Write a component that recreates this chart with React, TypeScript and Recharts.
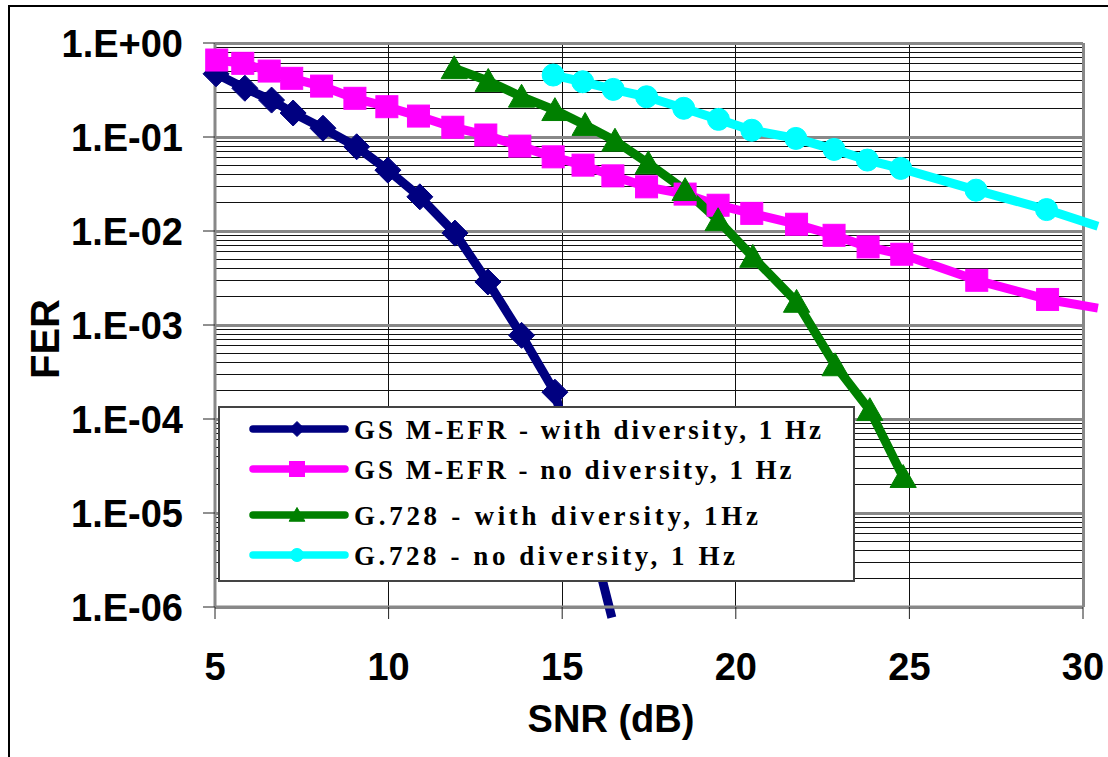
import React from 'react';
import { LineChart, Line, XAxis, YAxis, CartesianGrid, Legend } from 'recharts';

// ---------- axis ticks ----------
const xTicks = [5, 10, 15, 20, 25, 30];
const yTicks = [1e-6, 1e-5, 1e-4, 1e-3, 1e-2, 1e-1, 1];
const yTickLabels = ['1.E-06', '1.E-05', '1.E-04', '1.E-03', '1.E-02', '1.E-01', '1.E+00'];
const minorMultipliers = [2, 3, 4, 5, 6, 7, 8, 9];
const yMinorGrid = yTicks.slice(0, -1).flatMap((d) => minorMultipliers.map((m) => d * m));
const xInnerGrid = [10, 15, 20, 25];

// ---------- series ----------
const seriesNames = [
  'GS M-EFR - with diversity, 1 Hz',
  'GS M-EFR - no diversity, 1 Hz',
  'G.728 - with diversity, 1Hz',
  'G.728 - no diversity, 1 Hz',
];

// GSM-EFR with diversity (last point: line continues, no marker)
const efrDivSnr = [5.03, 5.86, 6.63, 7.25, 8.11, 9.08, 9.98, 10.9, 11.91, 12.86, 13.83, 14.79, 16.43];
const efrDivFer = [0.47, 0.33, 0.247, 0.18, 0.124, 0.0787, 0.0444, 0.0231, 0.0095, 0.00287, 0.000776, 0.000193, 7.7e-7];
const efrDivMarkers = 12;

// GSM-EFR no diversity
const efrNoSnr = [5.05, 5.8, 6.56, 7.21, 8.07, 9.03, 9.95, 10.86, 11.85, 12.8, 13.78, 14.74, 15.6, 16.46, 17.43, 18.54, 19.49, 20.46, 21.75, 22.83, 23.81, 24.78, 26.94, 28.98, 30.43];
const efrNoFer = [0.659, 0.608, 0.503, 0.421, 0.348, 0.258, 0.21, 0.167, 0.127, 0.105, 0.08, 0.0615, 0.0502, 0.0386, 0.0295, 0.0247, 0.0188, 0.0154, 0.0118, 0.009, 0.00677, 0.00566, 0.00299, 0.00187, 0.00151];
const efrNoMarkers = 24;

// G.728 with diversity
const g728DivSnr = [11.89, 12.87, 13.83, 14.79, 15.66, 16.52, 17.48, 18.54, 19.49, 20.49, 21.75, 22.86, 23.86, 24.82];
const g728DivFer = [0.538, 0.394, 0.268, 0.193, 0.134, 0.0912, 0.0524, 0.0272, 0.013, 0.0053, 0.00176, 0.000372, 0.000124, 0.0000241];
const g728DivMarkers = 14;

// G.728 no diversity
const g728NoSnr = [14.74, 15.59, 16.47, 17.43, 18.5, 19.5, 20.46, 21.73, 22.83, 23.79, 24.75, 26.92, 28.95, 30.43];
const g728NoFer = [0.456, 0.387, 0.321, 0.268, 0.202, 0.154, 0.118, 0.0966, 0.0738, 0.0568, 0.0463, 0.0272, 0.0169, 0.01125];
const g728NoMarkers = 13;

const toPoints = (snr: number[], fer: number[]) => snr.map((s, i) => ({ snr: s, fer: fer[i] }));

const efrDivData = toPoints(efrDivSnr, efrDivFer);
const efrNoData = toPoints(efrNoSnr, efrNoFer);
const g728DivData = toPoints(g728DivSnr, g728DivFer);
const g728NoData = toPoints(g728NoSnr, g728NoFer);

const NAVY = '#000080';
const MAGENTA = '#FF00FF';
const GREEN = '#008000';
const CYAN = '#00FFFF';
const seriesColors = [NAVY, MAGENTA, GREEN, CYAN];

const SANS = '"Liberation Sans", Arial, Helvetica, sans-serif';
const SERIF = '"Liberation Serif", "Times New Roman", serif';

const LINE_W = 9;

type Shape = 'diamond' | 'square' | 'triangle' | 'circle';

const drawMarker = (shape: Shape, cx: number, cy: number, color: string, s: number, key?: string) => {
  if (shape === 'diamond') {
    return <polygon key={key} points={`${cx},${cy - s} ${cx + s},${cy} ${cx},${cy + s} ${cx - s},${cy}`} fill={color} stroke={color} strokeWidth={1} />;
  }
  if (shape === 'square') {
    return <rect key={key} x={cx - s} y={cy - s} width={2 * s} height={2 * s} fill={color} stroke={color} strokeWidth={1} />;
  }
  if (shape === 'triangle') {
    return <polygon key={key} points={`${cx},${cy - s} ${cx + s * 1.05},${cy + s * 0.83} ${cx - s * 1.05},${cy + s * 0.83}`} fill={color} stroke={color} strokeWidth={1} />;
  }
  return <circle key={key} cx={cx} cy={cy} r={s} fill={color} stroke={color} strokeWidth={1} />;
};

const makeDot = (shape: Shape, color: string, count: number, size: number) => (props: any) => {
  const { cx, cy, index } = props;
  const key = `dot-${shape}-${index}`;
  if (index >= count || cx == null || cy == null) return <g key={key} />;
  return drawMarker(shape, cx, cy, color, size, key);
};

const YTick = (props: any) => {
  const { x, y, payload } = props;
  const idx = yTicks.findIndex((t) => Math.abs(Math.log10(t) - Math.log10(payload.value)) < 1e-6);
  return (
    <text x={x} y={y} dy={13.5} textAnchor="end" fontFamily={SANS} fontWeight="bold" fontSize={38} fill="#000">
      {yTickLabels[idx]}
    </text>
  );
};

const XTick = (props: any) => {
  const { x, y, payload } = props;
  return (
    <text x={x} y={y} dy={61} textAnchor="middle" fontFamily={SANS} fontWeight="bold" fontSize={38} fill="#000">
      {payload.value}
    </text>
  );
};

const XTitle = () => (
  <text x={611} y={732} textAnchor="middle" fontFamily={SANS} fontWeight="bold" fontSize={38} fill="#000">
    SNR (dB)
  </text>
);

const YTitle = () => (
  <text x={0} y={0} transform="translate(58.5 339) rotate(-90)" textAnchor="middle" fontFamily={SANS} fontWeight="bold" fontSize={40} fill="#000">
    FER
  </text>
);

const legendShapes: Shape[] = ['diamond', 'square', 'triangle', 'circle'];
const legendTextWidths = [467, 437.5, 404, 381];
const legendRowY = [23, 63, 109, 149];

const renderLegend = () => (
  <svg width={637} height={176} style={{ display: 'block' }}>
    <rect x={1} y={1} width={635} height={174} fill="#fff" stroke="#444" strokeWidth={2} />
    {seriesNames.map((name, i) => {
      const cy = legendRowY[i];
      const color = seriesColors[i];
      return (
        <g key={`leg-${i}`}>
          <line x1={35} x2={127} y1={cy} y2={cy} stroke={color} strokeWidth={7.5} strokeLinecap="round" />
          {drawMarker(legendShapes[i], 79, cy, color, i === 3 ? 6.5 : 7.5)}
          <text
            x={136}
            y={cy + 10}
            fontFamily={SERIF}
            fontWeight="bold"
            fontSize={27}
            fill="#000"
            textLength={legendTextWidths[i]}
            lengthAdjust="spacing"
          >
            {name}
          </text>
        </g>
      );
    })}
  </svg>
);

export default function App() {
  return (
    <div style={{ position: 'absolute', left: 0, top: 0, width: 1108, height: 757, overflow: 'hidden', background: '#fff' }}>
      <style>{`.recharts-wrapper [clip-path]{clip-path:none !important;} .recharts-cartesian-grid line{shape-rendering:crispEdges;}`}</style>
      <div style={{ position: 'absolute', left: 8, top: 5, width: 1300, height: 1000, border: '2px solid #000', boxSizing: 'border-box' }} />
      <div style={{ position: 'absolute', left: 0, top: 0 }}>
        <LineChart width={1108} height={757} margin={{ top: 43, right: 25, bottom: 0, left: 0 }}>
          <CartesianGrid
            horizontalValues={yMinorGrid}
            verticalValues={xInnerGrid}
            stroke="#111"
            strokeWidth={1}
            fill="none"
          />
          <CartesianGrid
            horizontalValues={yTicks}
            verticalValues={[30]}
            stroke="#888"
            strokeWidth={3}
            fill="none"
          />
          <XAxis
            dataKey="snr"
            type="number"
            domain={[5, 30]}
            ticks={xTicks}
            interval={0}
            allowDataOverflow
            height={150}
            tickSize={12}
            tickMargin={0}
            axisLine={{ stroke: '#888', strokeWidth: 3 }}
            tickLine={{ stroke: '#222', strokeWidth: 1 }}
            tick={<XTick />}
            label={<XTitle />}
          />
          <YAxis
            dataKey="fer"
            type="number"
            scale="log"
            domain={[1e-6, 1]}
            ticks={yTicks}
            interval={0}
            allowDataOverflow
            width={215}
            tickSize={12}
            tickMargin={20}
            axisLine={{ stroke: '#888', strokeWidth: 3 }}
            tickLine={{ stroke: '#222', strokeWidth: 1 }}
            tick={<YTick />}
            label={<YTitle />}
          />
          <Legend
            layout="vertical"
            align="center"
            verticalAlign="middle"
            content={renderLegend}
            wrapperStyle={{ left: 218, top: 406, width: 637, height: 176 }}
          />
          <Line
            data={efrDivData}
            dataKey="fer"
            name={seriesNames[0]}
            type="linear"
            stroke={NAVY}
            strokeWidth={LINE_W}
            strokeLinejoin="round"
            dot={makeDot('diamond', NAVY, efrDivMarkers, 13)}
            activeDot={false}
            isAnimationActive={false}
          />
          <Line
            data={efrNoData}
            dataKey="fer"
            name={seriesNames[1]}
            type="linear"
            stroke={MAGENTA}
            strokeWidth={LINE_W}
            strokeLinejoin="round"
            dot={makeDot('square', MAGENTA, efrNoMarkers, 11)}
            activeDot={false}
            isAnimationActive={false}
          />
          <Line
            data={g728DivData}
            dataKey="fer"
            name={seriesNames[2]}
            type="linear"
            stroke={GREEN}
            strokeWidth={LINE_W}
            strokeLinejoin="round"
            dot={makeDot('triangle', GREEN, g728DivMarkers, 12.5)}
            activeDot={false}
            isAnimationActive={false}
          />
          <Line
            data={g728NoData}
            dataKey="fer"
            name={seriesNames[3]}
            type="linear"
            stroke={CYAN}
            strokeWidth={LINE_W}
            strokeLinejoin="round"
            dot={makeDot('circle', CYAN, g728NoMarkers, 11)}
            activeDot={false}
            isAnimationActive={false}
          />
        </LineChart>
      </div>
    </div>
  );
}
